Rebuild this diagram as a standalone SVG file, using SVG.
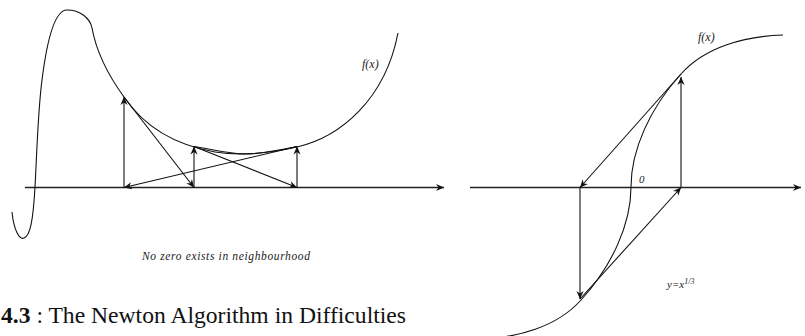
<svg xmlns="http://www.w3.org/2000/svg" width="805" height="336" viewBox="0 0 805 336">
<style>
.ln{fill:none;stroke:#111;stroke-width:1.1}
.ax{fill:none;stroke:#222;stroke-width:1.3}
.ar{fill:none;stroke:#111;stroke-width:1.1;marker-end:url(#ah)}
.lb{font-family:"Liberation Serif","DejaVu Serif",serif;font-style:italic;fill:#222}
.cap{font-family:"Liberation Serif","DejaVu Serif",serif;fill:#111;font-size:24px}
</style>
<defs>
<marker id="ah" markerUnits="userSpaceOnUse" markerWidth="12" markerHeight="10" viewBox="-9 -5 10 10" refX="0" refY="0" orient="auto">
<path d="M0,0 L-8,-3.6 L-5.5,0 L-8,3.6 z" fill="#111"/>
</marker>
</defs>
<rect width="805" height="336" fill="#fff"/>
<g id="axes">
<line class="ax" x1="25" y1="187.5" x2="444" y2="187.5" marker-end="url(#ah)"/>
<line class="ax" x1="470" y1="187.5" x2="801" y2="187.5" marker-end="url(#ah)"/>
</g>
<g id="curve-left">
<path class="ln" d="M12,212 C14,232 20,240 24,238 C30,236 33,222 35,187 C37,150 38,110 42,80 C47,40 55,10 67,10 C80,10 90,18 92,28 C96,50 108,75 124,97 C145,128 175,145 215,152 C240,156 270,153 297,147 C340,137 385,100 398,33"/>
<path class="ln" d="M194,146.5 C215,150 230,154 245,154 C262,154 280,150 297,146.5"/>
</g>
<g id="curve-right">
<path class="ln" d="M631,187 C631,150 650,108 681,74 C705,47 745,36 783,35"/>
<path class="ln" d="M631,187 C631,224 612,266 581,300 C557,327 517,338 479,339"/>
</g>
<g id="connectors">
<line class="ar" x1="124" y1="187.5" x2="124" y2="97"/>
<line class="ar" x1="124" y1="97" x2="194" y2="187.5"/>
<line class="ar" x1="194" y1="187.5" x2="194" y2="146.5"/>
<line class="ar" x1="194" y1="146.5" x2="297" y2="187.5"/>
<line class="ar" x1="297" y1="187.5" x2="297" y2="146.5"/>
<line class="ar" x1="297" y1="146.5" x2="124" y2="187.5"/>
<line class="ar" x1="681" y1="187.5" x2="681" y2="77"/>
<line class="ar" x1="681" y1="74" x2="580" y2="187.5"/>
<line class="ar" x1="580" y1="187.5" x2="580" y2="299"/>
<line class="ar" x1="580" y1="299" x2="681" y2="187.5"/>
</g>
<g id="labels">
<text class="lb" x="362" y="68" font-size="12">f(x)</text>
<text class="lb" x="698" y="41" font-size="12">f(x)</text>
<text class="lb" x="639" y="183" font-size="11">0</text>
<text class="lb" x="667" y="288" font-size="11">y=x<tspan font-size="8" dy="-4.5">1/3</tspan></text>
<text class="lb" x="142" y="260" font-size="11.5" textLength="168" lengthAdjust="spacing">No zero exists in neighbourhood</text>
</g>
<g id="caption">
<text class="cap" x="1" y="323" textLength="405" lengthAdjust="spacingAndGlyphs"><tspan font-weight="bold">4.3</tspan> : The Newton Algorithm in Difficulties</text>
</g>
</svg>
